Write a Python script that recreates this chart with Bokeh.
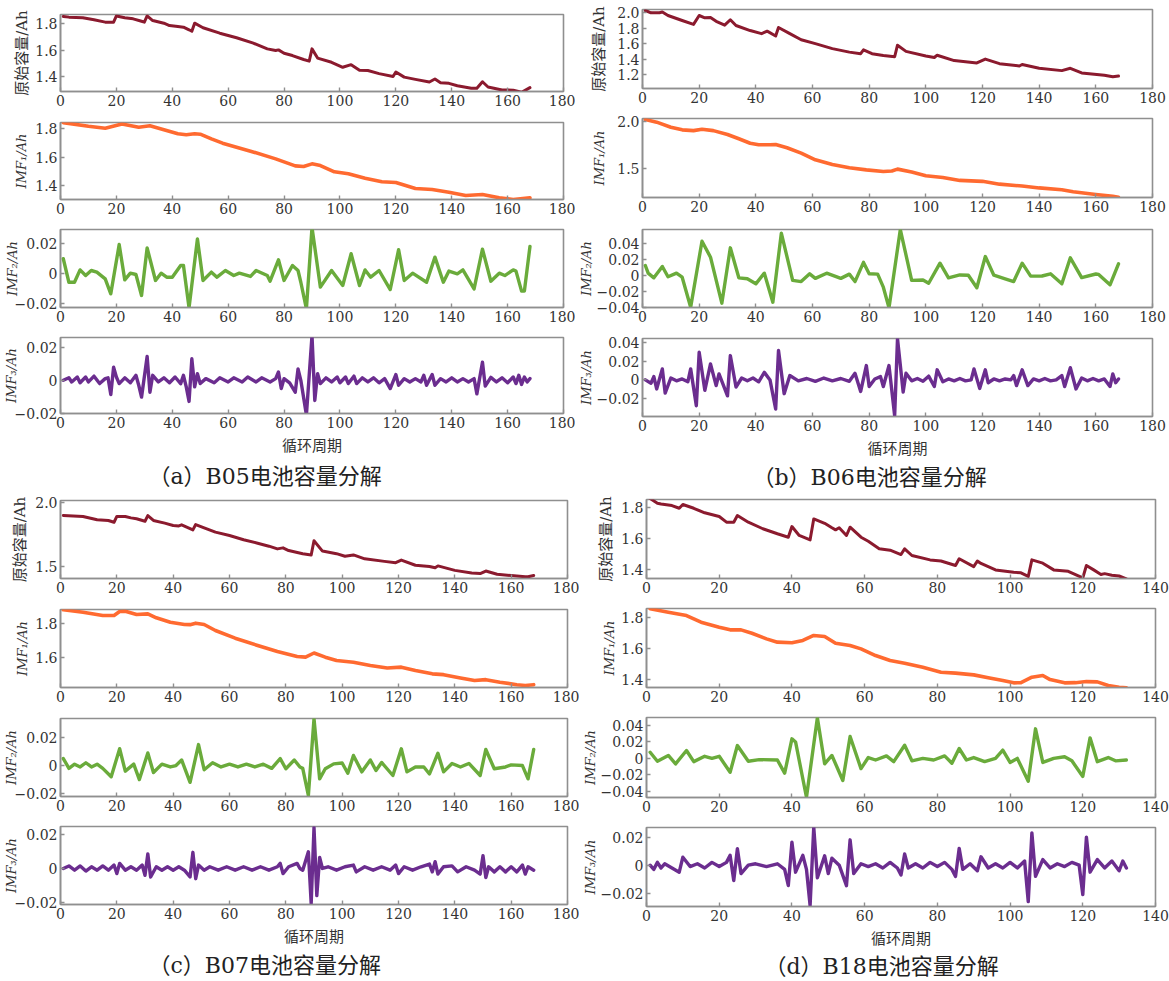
import sys
from bokeh.plotting import figure
from bokeh.layouts import column, row
from bokeh.models import Title, FixedTicker, Range1d
from bokeh.embed import file_html
from bokeh.resources import INLINE

# ------------------------------------------------------------------ data
# (a) B05
a_cap_x = [1, 3, 8, 12, 16, 19, 20, 23, 26, 29, 30, 31, 33, 37, 39, 42, 44, 46, 47, 48, 51, 57, 63, 69, 74, 77, 78, 80, 83, 87, 89, 90, 92, 97, 101, 104, 107, 110, 114, 119, 120, 123, 127, 132, 134, 136, 139, 142, 147, 149, 151, 153, 158, 162, 165, 168]
a_cap_y = [1.856, 1.851, 1.846, 1.831, 1.813, 1.813, 1.860, 1.846, 1.838, 1.820, 1.813, 1.860, 1.825, 1.805, 1.787, 1.780, 1.775, 1.755, 1.744, 1.805, 1.770, 1.729, 1.694, 1.653, 1.610, 1.597, 1.602, 1.577, 1.559, 1.529, 1.517, 1.610, 1.540, 1.508, 1.470, 1.490, 1.447, 1.445, 1.422, 1.400, 1.434, 1.395, 1.378, 1.358, 1.381, 1.353, 1.348, 1.330, 1.310, 1.310, 1.360, 1.320, 1.298, 1.296, 1.280, 1.315]
a_imf1_x = [1, 10, 16, 22, 28, 32, 37, 42, 45, 48, 50, 54, 58, 68, 77, 84, 87, 90, 93, 98, 103, 109, 115, 120, 127, 133, 139, 145, 151, 157, 162, 168]
a_imf1_y = [1.843, 1.818, 1.804, 1.833, 1.811, 1.821, 1.793, 1.765, 1.758, 1.765, 1.762, 1.729, 1.699, 1.643, 1.589, 1.540, 1.535, 1.554, 1.542, 1.498, 1.484, 1.453, 1.428, 1.423, 1.381, 1.374, 1.355, 1.332, 1.339, 1.316, 1.304, 1.316]
a_imf2_x = [1, 3, 5, 7, 9, 11, 13, 16, 18, 21, 23, 25, 27, 29, 31, 34, 36, 38, 40, 43, 44, 46, 49, 51, 54, 56, 59, 62, 64, 68, 70, 74, 75, 78, 80, 83, 85, 86, 88, 90, 93, 97, 101, 104, 107, 109, 111, 114, 118, 121, 123, 126, 131, 134, 137, 139, 142, 144, 148, 151, 154, 157, 159, 162, 163, 165, 166, 168]
a_imf2_y = [0.0099, -0.0059, -0.0059, 0.0024, -0.0014, 0.0020, 0.0009, -0.0036, -0.0137, 0.0195, -0.0043, 0.0002, -0.0007, -0.0148, 0.0172, -0.0047, 0.0002, -0.0025, -0.0025, 0.0054, 0.0054, -0.0231, 0.0233, -0.0047, 0.0009, -0.0025, 0.0020, -0.0014, 0.0002, -0.0020, 0.0020, -0.0014, -0.0052, 0.0092, -0.0047, 0.0054, 0.0020, -0.0059, -0.0238, 0.0310, -0.0092, 0.0020, -0.0081, 0.0133, -0.0081, 0.0024, -0.0025, 0.0020, -0.0108, 0.0160, -0.0047, 0.0002, -0.0059, 0.0110, -0.0059, 0.0016, -0.0002, 0.0024, -0.0104, 0.0164, -0.0052, 0.0002, -0.0014, 0.0024, 0.0016, -0.0119, -0.0119, 0.0182]
a_imf3_x = [1, 3, 4, 6, 7, 9, 10, 12, 14, 16, 17, 18, 19, 20, 21, 23, 25, 27, 28, 29, 31, 32, 33, 35, 37, 39, 41, 43, 44, 45, 46, 47, 48, 49, 50, 52, 55, 57, 60, 62, 65, 67, 70, 72, 75, 77, 78, 79, 80, 82, 84, 85, 86, 88, 90, 91, 92, 93, 95, 97, 99, 100, 102, 103, 105, 106, 108, 110, 112, 114, 116, 118, 120, 121, 123, 125, 127, 129, 130, 131, 133, 134, 136, 138, 140, 142, 144, 146, 148, 149, 151, 152, 154, 156, 158, 160, 162, 163, 164, 165, 166, 167, 168]
a_imf3_y = [0.0, 0.0015, -0.001, 0.002, -0.0015, 0.002, -0.001, 0.0025, -0.002, 0.001, 0.0015, -0.0086, 0.0079, 0.002, -0.002, 0.0015, -0.0015, 0.003, -0.003, -0.0102, 0.0144, -0.0072, 0.003, -0.001, 0.0015, -0.0015, 0.002, -0.002, 0.003, -0.004, -0.0128, 0.013, -0.004, 0.004, -0.002, 0.001, -0.0015, 0.0015, -0.001, 0.0015, -0.001, 0.002, -0.001, 0.0015, -0.001, 0.001, 0.005, -0.005, 0.001, -0.0015, -0.0072, 0.0069, 0.0, -0.021, 0.027, -0.0122, 0.004, -0.002, 0.0015, -0.001, 0.002, -0.0015, 0.002, -0.002, 0.0025, -0.002, 0.0015, -0.001, 0.0015, -0.0015, 0.001, -0.005, 0.0035, -0.003, 0.001, -0.001, 0.001, -0.001, 0.003, -0.003, 0.0035, -0.003, 0.001, -0.001, 0.0015, -0.001, 0.001, -0.001, 0.001, -0.0082, 0.0109, -0.0035, 0.0018, -0.001, 0.0015, -0.0015, 0.002, -0.002, 0.003, -0.0025, 0.002, -0.001, 0.001]

# (b) B06
b_cap_x = [1, 3, 6, 7, 9, 14, 18, 20, 22, 24, 26, 29, 31, 33, 38, 42, 44, 47, 48, 52, 56, 61, 67, 73, 77, 78, 81, 85, 89, 90, 93, 100, 103, 104, 110, 118, 121, 126, 133, 134, 140, 148, 151, 155, 163, 166, 168]
b_cap_y = [2.030, 2.000, 2.000, 2.010, 1.965, 1.900, 1.850, 1.965, 1.935, 1.940, 1.890, 1.840, 1.910, 1.835, 1.770, 1.730, 1.762, 1.700, 1.810, 1.730, 1.650, 1.600, 1.535, 1.490, 1.470, 1.520, 1.470, 1.445, 1.430, 1.580, 1.500, 1.440, 1.420, 1.450, 1.380, 1.350, 1.400, 1.340, 1.310, 1.330, 1.280, 1.250, 1.280, 1.220, 1.190, 1.170, 1.180]
b_imf1_x = [1, 5, 10, 14, 18, 21, 25, 30, 34, 38, 41, 45, 47, 51, 56, 61, 67, 73, 79, 85, 88, 90, 95, 100, 106, 112, 120, 126, 134, 140, 148, 152, 160, 166, 168]
b_imf1_y = [2.018, 1.990, 1.936, 1.908, 1.900, 1.915, 1.900, 1.859, 1.813, 1.766, 1.749, 1.749, 1.752, 1.717, 1.660, 1.589, 1.539, 1.504, 1.482, 1.465, 1.470, 1.490, 1.460, 1.420, 1.400, 1.370, 1.360, 1.330, 1.310, 1.290, 1.270, 1.250, 1.220, 1.200, 1.190]
b_imf2_x = [1, 2, 4, 7, 9, 12, 14, 17, 21, 24, 28, 31, 34, 37, 40, 43, 46, 49, 53, 56, 59, 61, 65, 70, 73, 75, 78, 80, 83, 85, 87, 91, 95, 99, 101, 105, 108, 112, 115, 118, 121, 124, 128, 131, 134, 137, 141, 144, 148, 151, 155, 160, 161, 165, 168]
b_imf2_y = [0.0121, 0.0025, -0.0033, 0.0109, -0.002, 0.0025, -0.0025, -0.040, 0.0425, 0.0225, -0.035, 0.0342, -0.0033, -0.0045, -0.0108, 0.0025, -0.0338, 0.0526, -0.0065, -0.008, 0.0017, -0.004, 0.0025, -0.004, 0.0013, -0.008, 0.016, 0.0017, 0.0013, -0.015, -0.0408, 0.057, -0.0065, -0.006, -0.0101, 0.015, -0.0033, 0.0003, 0.0, -0.0158, 0.0233, 0.0, -0.0045, -0.008, 0.015, -0.0012, -0.001, 0.0017, -0.0108, 0.0217, -0.003, 0.0015, 0.001, -0.012, 0.0142]
b_imf3_x = [1, 3, 4, 5, 7, 8, 10, 12, 14, 16, 17, 19, 20, 22, 24, 26, 27, 30, 31, 33, 35, 37, 39, 41, 43, 45, 47, 48, 50, 52, 55, 58, 61, 64, 67, 70, 73, 75, 77, 79, 80, 82, 84, 85, 87, 89, 90, 92, 93, 95, 97, 99, 101, 103, 104, 106, 108, 110, 112, 114, 116, 117, 119, 121, 122, 124, 126, 128, 130, 131, 132, 134, 136, 138, 140, 142, 144, 146, 148, 149, 151, 153, 155, 157, 159, 161, 163, 165, 166, 167, 168]
b_imf3_y = [0.0, -0.0035, 0.0035, -0.0096, 0.0117, -0.014, 0.002, -0.001, 0.001, -0.002, 0.0117, -0.0274, 0.0293, -0.011, 0.0169, -0.006, 0.0063, -0.0169, 0.0258, -0.0076, 0.002, -0.001, 0.002, -0.002, 0.008, 0.0, -0.0309, 0.0311, -0.0146, 0.0046, -0.001, 0.0015, -0.0015, 0.002, -0.001, 0.0015, -0.0015, 0.007, -0.0122, 0.0152, -0.007, 0.001, 0.0035, -0.007, 0.0152, -0.038, 0.0436, -0.0128, 0.007, -0.001, 0.0015, -0.0015, 0.004, -0.007, 0.0107, -0.002, 0.001, -0.001, 0.0015, -0.001, 0.0, 0.0117, -0.009, 0.0107, -0.003, 0.001, -0.001, 0.001, 0.0, 0.0046, -0.006, 0.0107, -0.006, 0.001, -0.001, 0.0015, -0.001, 0.0, 0.0046, -0.007, 0.013, -0.0096, 0.002, -0.001, 0.0015, -0.001, 0.001, -0.007, 0.0063, -0.003, 0.001]

# (c) B07
c_cap_x = [1, 8, 13, 17, 19, 20, 23, 25, 27, 30, 31, 33, 37, 40, 42, 43, 47, 48, 51, 55, 60, 65, 70, 74, 77, 79, 81, 86, 89, 90, 93, 98, 101, 104, 108, 115, 119, 121, 126, 131, 133, 134, 140, 146, 149, 151, 155, 160, 165, 166, 168]
c_cap_y = [1.896, 1.889, 1.863, 1.858, 1.844, 1.889, 1.889, 1.878, 1.871, 1.852, 1.896, 1.858, 1.837, 1.819, 1.815, 1.824, 1.785, 1.826, 1.800, 1.767, 1.741, 1.708, 1.681, 1.658, 1.637, 1.645, 1.624, 1.599, 1.590, 1.700, 1.620, 1.600, 1.580, 1.590, 1.560, 1.540, 1.530, 1.550, 1.510, 1.500, 1.490, 1.505, 1.470, 1.450, 1.445, 1.465, 1.440, 1.430, 1.420, 1.420, 1.430]
c_imf1_x = [1, 8, 15, 19, 21, 23, 27, 31, 34, 39, 44, 46, 48, 51, 55, 62, 70, 77, 84, 87, 90, 94, 98, 104, 110, 116, 121, 126, 132, 136, 142, 147, 151, 156, 162, 165, 168]
c_imf1_y = [1.884, 1.870, 1.850, 1.850, 1.874, 1.876, 1.856, 1.860, 1.836, 1.810, 1.796, 1.795, 1.804, 1.796, 1.760, 1.714, 1.670, 1.634, 1.604, 1.600, 1.625, 1.600, 1.580, 1.570, 1.550, 1.535, 1.540, 1.520, 1.500, 1.495, 1.475, 1.460, 1.465, 1.450, 1.435, 1.430, 1.435]
c_imf2_x = [1, 3, 5, 7, 9, 11, 13, 15, 18, 21, 23, 26, 28, 31, 33, 36, 39, 41, 43, 46, 49, 51, 54, 57, 60, 63, 66, 69, 72, 75, 78, 80, 83, 85, 86, 88, 90, 92, 94, 97, 100, 102, 104, 107, 110, 112, 114, 118, 121, 123, 126, 129, 131, 134, 136, 139, 142, 145, 149, 151, 154, 158, 160, 164, 166, 168]
c_imf2_y = [0.005, -0.002, 0.001, -0.001, 0.002, -0.001, 0.001, -0.002, -0.008, 0.012, -0.004, 0.001, -0.010, 0.009, -0.005, 0.001, -0.001, 0.0, 0.004, -0.012, 0.015, -0.003, 0.002, -0.001, 0.001, -0.001, 0.001, -0.001, 0.001, -0.002, 0.005, -0.0023, 0.004, -0.001, -0.002, -0.0214, 0.0334, -0.0095, -0.0023, 0.0012, 0.0018, -0.0055, 0.0072, -0.0045, 0.004, -0.0035, 0.0022, -0.0071, 0.0120, -0.0045, -0.001, -0.001, -0.006, 0.0088, -0.0045, 0.0015, -0.001, 0.0015, -0.0071, 0.0115, -0.0023, -0.001, 0.0005, 0.0, -0.0095, 0.0115]
c_imf3_x = [1, 3, 5, 7, 9, 11, 13, 15, 17, 19, 20, 21, 23, 25, 27, 29, 30, 31, 32, 34, 36, 38, 40, 42, 44, 46, 47, 48, 49, 51, 53, 56, 59, 62, 65, 68, 71, 74, 77, 78, 79, 81, 84, 85, 86, 88, 89, 90, 91, 92, 93, 95, 98, 101, 104, 105, 108, 111, 114, 117, 119, 120, 122, 125, 128, 131, 132, 133, 134, 136, 139, 141, 144, 147, 149, 150, 151, 152, 154, 156, 158, 160, 162, 164, 165, 166, 167, 168]
c_imf3_y = [0.0, 0.0015, -0.001, 0.0015, -0.0015, 0.001, -0.001, 0.0015, -0.001, 0.002, -0.003, 0.003, -0.001, 0.001, -0.001, 0.002, -0.004, 0.0085, -0.005, 0.001, -0.001, 0.001, -0.001, 0.001, -0.001, -0.005, 0.0095, -0.006, 0.002, -0.001, 0.001, -0.001, 0.001, -0.001, 0.001, -0.001, 0.001, -0.001, 0.001, 0.003, -0.003, 0.001, 0.003, 0.0, -0.001, 0.0098, -0.0206, 0.0241, -0.016, 0.0065, 0.0, 0.001, -0.001, 0.001, 0.002, -0.002, 0.001, -0.001, 0.001, -0.001, 0.002, -0.003, 0.001, -0.001, 0.001, 0.0026, -0.002, 0.004, -0.0033, 0.001, 0.0015, -0.002, 0.001, -0.001, -0.0033, 0.0075, -0.0053, 0.001, -0.002, 0.001, -0.002, 0.001, -0.002, 0.002, -0.0033, 0.001, 0.0, -0.001]

# (d) B18
d_cap_x = [1, 3, 4, 7, 9, 10, 13, 16, 20, 22, 24, 25, 28, 32, 36, 39, 40, 42, 45, 46, 49, 51, 52, 53, 55, 56, 59, 61, 64, 67, 70, 71, 73, 78, 81, 85, 86, 90, 91, 92, 96, 101, 103, 105, 106, 109, 112, 116, 120, 121, 123, 125, 126, 128, 130, 132]
d_cap_y = [1.855, 1.825, 1.820, 1.810, 1.793, 1.817, 1.793, 1.764, 1.740, 1.704, 1.704, 1.747, 1.704, 1.662, 1.630, 1.608, 1.676, 1.619, 1.591, 1.725, 1.697, 1.668, 1.655, 1.668, 1.619, 1.672, 1.608, 1.582, 1.534, 1.525, 1.497, 1.534, 1.491, 1.463, 1.456, 1.427, 1.470, 1.420, 1.456, 1.440, 1.399, 1.384, 1.380, 1.357, 1.463, 1.442, 1.399, 1.390, 1.348, 1.427, 1.399, 1.370, 1.375, 1.365, 1.360, 1.342]
d_imf1_x = [1, 6, 11, 15, 20, 23, 26, 29, 33, 36, 40, 43, 46, 49, 52, 56, 59, 63, 67, 71, 76, 81, 85, 90, 94, 98, 101, 103, 106, 109, 111, 115, 118, 121, 124, 127, 130, 132]
d_imf1_y = [1.854, 1.832, 1.811, 1.768, 1.736, 1.719, 1.719, 1.697, 1.661, 1.640, 1.636, 1.651, 1.683, 1.676, 1.633, 1.619, 1.597, 1.554, 1.522, 1.505, 1.479, 1.447, 1.441, 1.430, 1.411, 1.394, 1.379, 1.380, 1.415, 1.426, 1.400, 1.379, 1.380, 1.387, 1.385, 1.362, 1.351, 1.347]
d_imf2_x = [1, 3, 6, 8, 11, 13, 16, 18, 20, 23, 25, 28, 31, 36, 38, 40, 41, 44, 47, 49, 51, 54, 56, 59, 61, 63, 66, 68, 71, 73, 76, 79, 82, 84, 86, 88, 90, 93, 96, 98, 100, 102, 105, 107, 109, 112, 115, 117, 120, 122, 124, 127, 129, 132]
d_imf2_y = [0.0075, -0.0035, 0.0035, -0.0067, 0.0096, -0.004, 0.0025, 0.0, 0.0025, -0.0169, 0.0156, -0.0035, -0.0015, -0.002, -0.018, 0.0238, 0.020, -0.0474, 0.0494, -0.0067, 0.0035, -0.027, 0.0266, -0.0125, 0.001, -0.002, 0.003, -0.004, 0.016, -0.003, 0.0, -0.002, 0.003, -0.006, 0.012, -0.002, 0.001, -0.004, 0.0, 0.010, -0.005, 0.0, -0.028, 0.036, -0.005, 0.0, 0.002, -0.003, -0.022, 0.025, -0.004, 0.001, -0.003, -0.002]
d_imf3_x = [1, 2, 3, 4, 5, 7, 9, 10, 12, 14, 16, 18, 20, 22, 23, 24, 25, 26, 28, 30, 33, 36, 38, 39, 40, 41, 43, 44, 45, 46, 47, 49, 50, 51, 53, 55, 56, 57, 59, 61, 63, 65, 67, 69, 70, 71, 72, 74, 76, 78, 80, 82, 84, 85, 86, 87, 89, 91, 92, 94, 96, 98, 100, 102, 104, 105, 106, 107, 109, 111, 113, 115, 117, 119, 120, 121, 122, 124, 126, 128, 130, 131, 132]
d_imf3_y = [0.0, -0.003, 0.002, -0.002, 0.001, -0.002, -0.005, 0.0057, -0.001, 0.001, -0.002, 0.002, -0.001, 0.002, 0.007, -0.0109, 0.0117, -0.006, 0.0, 0.001, -0.001, 0.001, -0.003, -0.0145, 0.0164, -0.005, 0.007, -0.003, -0.0288, 0.0271, -0.009, 0.0067, -0.006, 0.005, 0.0, -0.0146, 0.0181, -0.006, 0.001, -0.001, 0.001, -0.002, 0.002, -0.002, -0.007, 0.008, -0.002, 0.001, -0.002, 0.002, -0.001, 0.002, -0.003, -0.008, 0.012, -0.003, 0.001, -0.004, 0.006, -0.002, 0.001, -0.002, 0.002, -0.002, 0.003, -0.026, 0.023, -0.008, 0.004, -0.002, 0.001, -0.001, 0.002, 0.0, -0.021, 0.020, -0.005, 0.004, -0.002, 0.003, -0.004, 0.003, -0.002]

# axes / ticks
x_ticks_168 = [0, 20, 40, 60, 80, 100, 120, 140, 160, 180]
x_ticks_132 = [0, 20, 40, 60, 80, 100, 120, 140]
yt_14_18 = [1.4, 1.6, 1.8]
yl_14_18 = ["1.4", "1.6", "1.8"]
yt_12_20 = [1.2, 1.4, 1.6, 1.8, 2.0]
yl_12_20 = ["1.2", "1.4", "1.6", "1.8", "2.0"]
yt_15_20 = [1.5, 2.0]
yl_15_20 = ["1.5", "2.0"]
yt_16_18 = [1.6, 1.8]
yl_16_18 = ["1.6", "1.8"]
yt_02 = [-0.02, 0, 0.02]
yl_02 = ["\u22120.02", "0", "0.02"]
yt_04 = [-0.04, -0.02, 0, 0.02, 0.04]
yl_04 = ["\u22120.04", "\u22120.02", "0", "0.02", "0.04"]
yt_02_04 = [-0.02, 0, 0.02, 0.04]
yl_02_04 = ["\u22120.02", "0", "0.02", "0.04"]

LBL_CAP = "原始容量/Ah"
LBL_IMF = ["IMF\u2081/Ah", "IMF\u2082/Ah", "IMF\u2083/Ah"]
XLABEL = "循环周期"
captions = ["（a）B05电池容量分解", "（b）B06电池容量分解", "（c）B07电池容量分解", "（d）B18电池容量分解"]

# ------------------------------------------------------------------ style
GRAY = "#8f8f8f"
TXT = "#333333"
SERIF = "DejaVu Serif"
MIXED = "DejaVu Serif, Noto Sans CJK SC"
COLORS = ["#8b1a2e", "#ff6a30", "#6aab3b", "#6b2d8f"]
WIDTHS = [3.0, 3.6, 3.4, 3.4]


def ov(ticks, labels):
    d = {}
    for t, l in zip(ticks, labels):
        d[t] = l
        d["%g" % t] = l
    return d


def panel(xs, ys, color, lw, xmax, xticks, yr, yticks, ylabels, ylabel, italic,
          ystand, w, h, bl, br, bt, bb, xlabel=None, caption=None,
          cap_off=0, cap_stand=10):
    n = min(len(xs), len(ys))
    if len(xs) != len(ys):
        print("length mismatch", ylabel, len(xs), len(ys), file=sys.stderr)
    p = figure(width=w, height=h, x_range=Range1d(0, xmax), y_range=Range1d(*yr),
               output_backend="svg", toolbar_location=None,
               min_border_left=bl, min_border_right=br,
               min_border_top=bt, min_border_bottom=bb)
    p.grid.visible = False
    p.outline_line_color = GRAY
    p.outline_line_width = 1.6
    p.background_fill_color = "white"
    p.border_fill_color = "white"
    for ax in (p.xaxis[0], p.yaxis[0]):
        ax.axis_line_color = GRAY
        ax.axis_line_width = 1.6
        ax.major_tick_line_color = GRAY
        ax.major_tick_line_width = 1.4
        ax.major_tick_in = 4
        ax.major_tick_out = 0
        ax.minor_tick_line_color = None
        ax.major_label_text_font = SERIF
        ax.major_label_text_font_size = "14px"
        ax.major_label_text_color = TXT
        ax.major_label_standoff = 3
    p.xaxis.ticker = FixedTicker(ticks=xticks)
    p.yaxis.ticker = FixedTicker(ticks=yticks)
    p.yaxis.major_label_overrides = ov(yticks, ylabels)
    p.yaxis.axis_label = ylabel
    p.yaxis.axis_label_text_font = MIXED
    p.yaxis.axis_label_text_font_size = "13px" if italic else "15px"
    p.yaxis.axis_label_text_font_style = "italic" if italic else "normal"
    p.yaxis.axis_label_text_color = TXT
    p.yaxis.axis_label_standoff = ystand
    if xlabel:
        p.xaxis.axis_label = xlabel
        p.xaxis.axis_label_text_font = MIXED
        p.xaxis.axis_label_text_font_size = "15px"
        p.xaxis.axis_label_text_font_style = "normal"
        p.xaxis.axis_label_text_color = TXT
        p.xaxis.axis_label_standoff = 6
    if caption:
        t = Title(text=caption, align="left", offset=cap_off,
                  text_font=MIXED, text_font_size="22px",
                  text_font_style="normal", text_color="#222222",
                  standoff=cap_stand)
        p.add_layout(t, "below")
    p.line(xs[:n], ys[:n], line_color=color, line_width=lw,
           line_join="round", line_cap="round")
    return p


def quadrant(series, ranges, ticks, labels, stands, w, bl, br, heights, tops,
             bottoms, xmax, xticks, caption, cap_off, cap_stand):
    figs = []
    for i in range(4):
        xs, ys = series[i]
        ylabel = LBL_CAP if i == 0 else LBL_IMF[i - 1]
        last = i == 3
        figs.append(panel(xs, ys, COLORS[i], WIDTHS[i], xmax, xticks, ranges[i],
                          ticks[i], labels[i], ylabel, i > 0, stands[i], w,
                          heights[i], bl, br, tops[i], bottoms[i],
                          xlabel=XLABEL if last else None,
                          caption=caption if last else None, cap_off=cap_off,
                          cap_stand=cap_stand))
    return column(*figs, spacing=0)


qa = quadrant([(a_cap_x, a_cap_y), (a_imf1_x, a_imf1_y), (a_imf2_x, a_imf2_y), (a_imf3_x, a_imf3_y)],
              [(1.286, 1.871), (1.304, 1.844), (-0.0229, 0.0296), (-0.0201, 0.0259)],
              [yt_14_18, yt_14_18, yt_02, yt_02], [yl_14_18, yl_14_18, yl_02, yl_02],
              [1, 3, -8, -7], 575, 56, 12, [118, 107, 108, 161], [14, 4, 4, 4], [27, 26, 26, 81],
              180, x_ticks_168, captions[0], 88, 8)
qb = quadrant([(b_cap_x, b_cap_y), (b_imf1_x, b_imf1_y), (b_imf2_x, b_imf2_y), (b_imf3_x, b_imf3_y)],
              [(1.018, 2.043), (1.188, 2.029), (-0.0404, 0.0571), (-0.0388, 0.0439)],
              [yt_12_20, yt_15_20, yt_04, yt_02_04], [yl_12_20, yl_15_20, yl_04, yl_02_04],
              [6, 7, 0, 0], 594, 64, 17, [114, 111, 109, 160], [9, 4, 4, 4], [26, 28, 27, 78],
              180, x_ticks_168, captions[1], 110, 5)
qc = quadrant([(c_cap_x, c_cap_y), (c_imf1_x, c_imf1_y), (c_imf2_x, c_imf2_y), (c_imf3_x, c_imf3_y)],
              [(1.407, 2.013), (1.418, 1.886), (-0.0221, 0.0336), (-0.0212, 0.0247)],
              [yt_15_20, yt_16_18, yt_02, yt_02], [yl_15_20, yl_16_18, yl_02, yl_02],
              [3, 2, -7, -7], 579, 56, 12, [111, 109, 108, 159], [6, 4, 4, 4], [27, 27, 26, 77],
              180, x_ticks_168, captions[2], 88, 5)
qd = quadrant([(d_cap_x, d_cap_y), (d_imf1_x, d_imf1_y), (d_imf2_x, d_imf2_y), (d_imf3_x, d_imf3_y)],
              [(1.344, 1.849), (1.349, 1.856), (-0.0477, 0.0498), (-0.0295, 0.0269)],
              [yt_14_18, yt_14_18, yt_04, yt_02], [yl_14_18, yl_14_18, yl_04, yl_02],
              [3, 1, 0, 0], 590, 62, 14, [110, 109, 110, 158], [5, 4, 4, 4], [26, 26, 26, 75],
              140, x_ticks_132, captions[3], 118, 3)

layout = column(row(qa, qb, spacing=0), row(qc, qd, spacing=0), spacing=0)

with open("out.html", "w") as f:
    f.write(file_html(layout, INLINE, title="电池容量分解"))
